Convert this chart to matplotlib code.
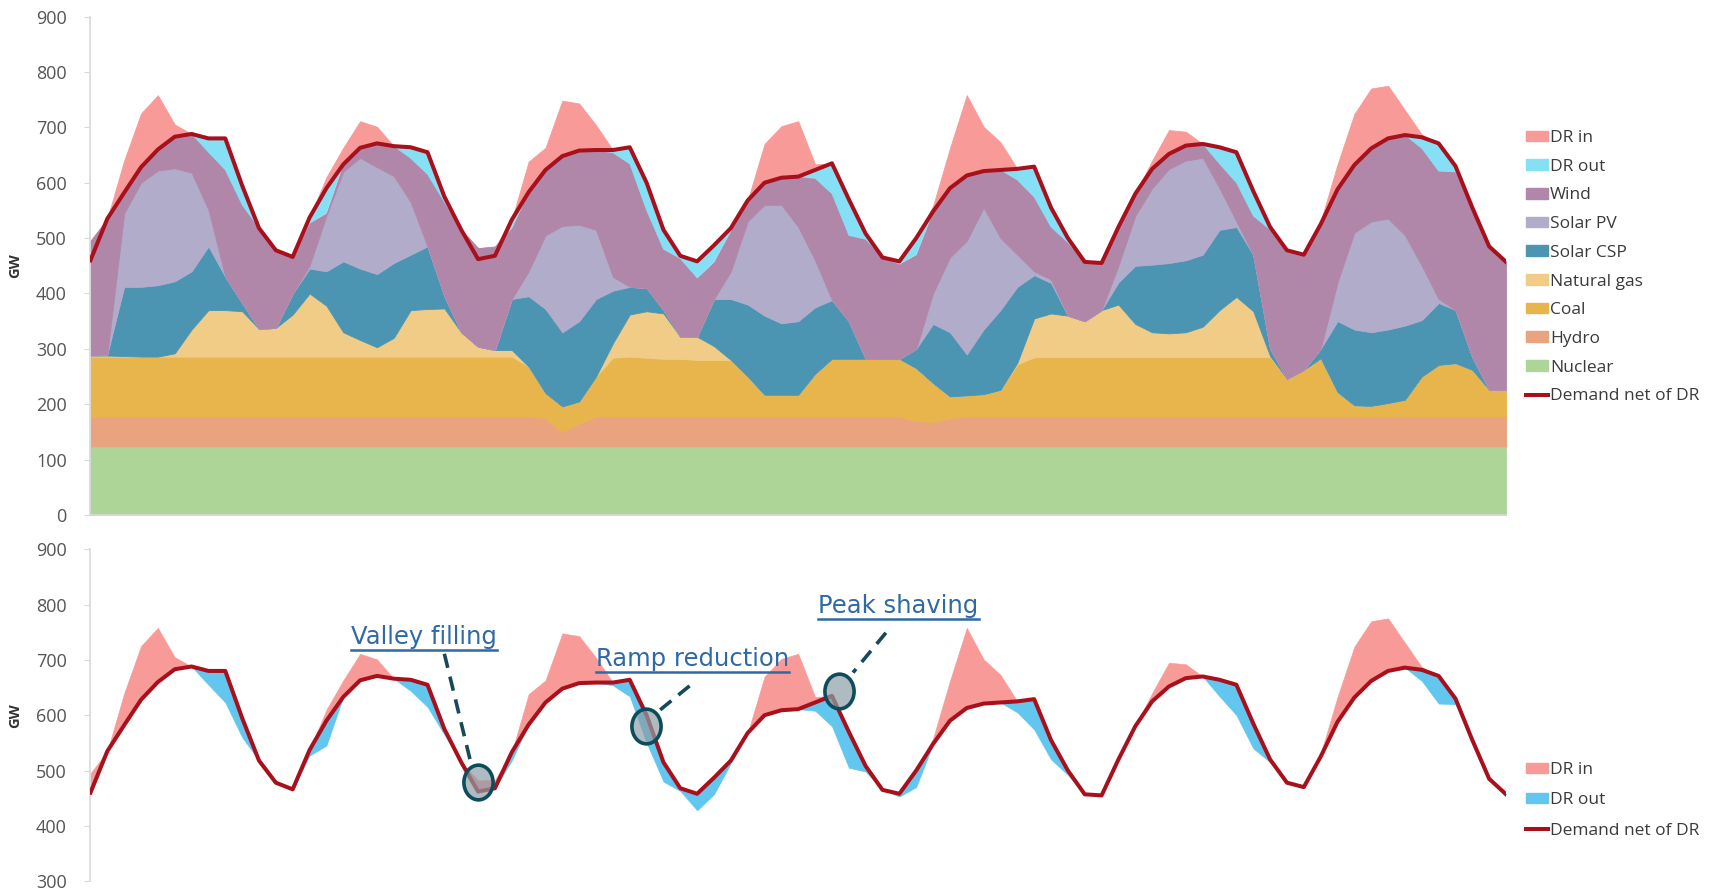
import numpy as np
import matplotlib
matplotlib.use("Agg")
import matplotlib.pyplot as plt
from matplotlib.patches import Patch
from matplotlib.lines import Line2D
from matplotlib.path import Path
from matplotlib.transforms import Affine2D

# ---------------- data (2-hourly, hours 0..168) ----------------
hours = list(range(0, 169, 2))

demand = [460, 535, 582, 628, 660, 683, 688, 680, 680, 595, 518, 478, 466,
          537, 590, 633, 663, 671, 666, 664, 655, 575, 515, 462, 468,
          533, 583, 623, 648, 658, 659, 659, 664, 600, 515, 468, 458,
          487, 518, 568, 600, 609, 611, 623, 635, 570, 508, 465, 458,
          500, 548, 590, 613, 621, 623, 625, 629, 555, 500, 457, 455,
          520, 580, 625, 652, 667, 670, 664, 655, 585, 520, 478, 470,
          525, 588, 632, 662, 680, 686, 682, 671, 630, 555, 485, 457]

dr_in = [35, 0, 58, 97, 98, 22, 0, 0, 0, 0, 0, 0, 0,
         0, 20, 30, 48, 30, 0, 0, 0, 0, 0, 20, 15,
         0, 55, 40, 100, 85, 45, 0, 0, 0, 0, 0, 0,
         0, 0, 0, 70, 93, 100, 10, 0, 0, 0, 0, 0,
         0, 10, 72, 145, 80, 50, 0, 0, 0, 0, 0, 0,
         0, 0, 15, 43, 25, 0, 0, 0, 0, 0, 0, 0,
         5, 45, 92, 108, 95, 45, 5, 0, 0, 0, 0, 0]

dr_out = [0, 0, 0, 0, 0, 0, 0, 25, 57, 35, 0, 0, 0,
          10, 45, 0, 0, 0, 0, 20, 40, 10, 0, 0, 0,
          15, 0, 0, 0, 0, 0, 5, 30, 50, 35, 5, 30,
          30, 5, 0, 0, 0, 0, 15, 55, 65, 10, 0, 5,
          30, 0, 0, 0, 0, 0, 20, 55, 35, 8, 0, 0,
          0, 0, 0, 0, 0, 0, 30, 55, 45, 5, 0, 0,
          0, 0, 0, 0, 0, 0, 20, 50, 10, 0, 0, 0]

# upper edges of the stacked generation layers (GW)
nuclear_top = [124] * 85

hydro_top = [178] * 13 + [178] * 12 + \
            [178, 178, 175, 150, 165, 178, 178, 178, 178, 178, 178, 178] + \
            [178] * 12 + \
            [170, 168, 175, 178, 178, 178, 178, 178, 178, 178, 178, 178] + \
            [178] * 12 + [178] * 12

coal_top = [286] * 13 + [286] * 12 + \
           [286, 268, 220, 196, 205, 250, 284, 286, 284, 282, 282, 280] + \
           [280, 280, 250, 217, 217, 217, 255, 282, 282, 282, 282, 282] + \
           [265, 238, 214, 216, 218, 226, 272, 285, 285, 285, 285, 285] + \
           [285, 285, 285, 285, 285, 285, 285, 285, 285, 285, 246, 262] + \
           [283, 222, 198, 197, 202, 208, 250, 271, 274, 262, 226, 226]

gas_top = [288, 288, 287, 286, 286, 292, 335, 370, 370, 368, 336, 338, 362,
           400, 378, 330, 316, 303, 320, 370, 372, 373, 330, 304, 298,
           298, 268, 220, 196, 205, 250, 310, 362, 368, 364, 322, 322,
           305, 280, 250, 217, 217, 217, 255, 282, 282, 282, 282, 282,
           265, 238, 214, 216, 218, 226, 275, 355, 364, 360, 350, 370,
           380, 345, 330, 328, 330, 340, 370, 394, 368, 287, 246, 262,
           283, 222, 198, 197, 202, 208, 250, 271, 274, 262, 226, 226]

csp_top = [288, 290, 412, 412, 415, 422, 440, 485, 430, 383, 336, 338, 400,
           445, 440, 458, 445, 435, 455, 470, 485, 395, 330, 304, 298,
           390, 395, 372, 330, 350, 390, 405, 412, 410, 370, 322, 322,
           390, 390, 380, 360, 346, 350, 375, 388, 350, 282, 282, 282,
           300, 345, 330, 290, 335, 370, 412, 433, 419, 360, 350, 370,
           420, 450, 452, 455, 460, 470, 515, 520, 470, 300, 246, 262,
           300, 350, 335, 330, 335, 342, 352, 383, 370, 285, 226, 226]

pv_top = [288, 290, 545, 600, 622, 626, 618, 551, 430, 383, 336, 338, 400,
          450, 540, 620, 645, 628, 612, 565, 485, 395, 330, 304, 298,
          390, 440, 505, 522, 524, 515, 430, 412, 410, 370, 322, 322,
          390, 440, 530, 560, 560, 520, 460, 388, 350, 282, 282, 282,
          300, 400, 465, 495, 555, 500, 470, 440, 425, 360, 350, 370,
          450, 540, 590, 625, 640, 645, 590, 530, 470, 300, 246, 262,
          300, 420, 510, 530, 535, 505, 450, 390, 370, 285, 226, 226]

wind_top = [495, 535, 582, 628, 660, 683, 688, 655, 623, 560, 518, 478, 466,
            527, 545, 633, 663, 671, 666, 644, 615, 565, 515, 482, 485,
            518, 583, 623, 648, 658, 659, 654, 634, 550, 480, 463, 428,
            457, 513, 568, 600, 609, 611, 608, 580, 505, 498, 465, 453,
            470, 548, 590, 613, 621, 623, 605, 574, 520, 492, 457, 455,
            520, 580, 625, 652, 667, 670, 634, 600, 540, 515, 478, 470,
            525, 588, 632, 662, 680, 686, 662, 621, 620, 555, 485, 457]

layer_names = ["Nuclear", "Hydro", "Coal", "Natural gas", "Solar CSP", "Solar PV", "Wind"]
layer_tops = [nuclear_top, hydro_top, coal_top, gas_top, csp_top, pv_top, wind_top]
layer_colors = ["#ADD598", "#E9A37E", "#E7B54B", "#F0CC86", "#4B95B3", "#B2ACCB", "#B187A9"]

C_DRIN = "#F89A98"
C_DROUT_TOP = "#86E0F5"
C_DROUT_BOT = "#62C6EF"
C_LINE = "#A8101C"

x = np.array(hours, dtype=float)
D = np.array(demand, dtype=float)
din = np.array(dr_in, dtype=float)
dout = np.array(dr_out, dtype=float)

FW, FH = 17.3, 8.9
fig = plt.figure(figsize=(FW, FH), dpi=100)
SW, SH = 1568.0, 807.0
axL, axR = 82 / SW, 1365 / SW
ax1 = fig.add_axes([axL, 1 - 467 / SH, axR - axL, (467 - 15) / SH])
ax2 = fig.add_axes([axL, 1 - 799 / SH, axR - axL, (799 - 498) / SH])

tick_font = "Open Sans"
GRAY = "#D9D9D9"
LW_LINE = 2.9

# ---------------- top panel ----------------
ax1.fill_between(x, D, D + din, color=C_DRIN, lw=0.6, edgecolor=C_DRIN, zorder=1)
prev = np.zeros_like(x)
for name, top, col in zip(layer_names, layer_tops, layer_colors):
    t = np.array(top, dtype=float)
    ax1.fill_between(x, prev, t, color=col, lw=0.6, edgecolor=col, zorder=2)
    prev = t
wt = np.array(wind_top, dtype=float)
ax1.fill_between(x, wt, D, where=D > wt, interpolate=True, color=C_DROUT_TOP,
                 lw=0.4, edgecolor=C_DROUT_TOP, zorder=3)
ax1.plot(x, D, color=C_LINE, lw=LW_LINE, zorder=5, solid_joinstyle="round")

ax1.set_xlim(0, 168)
ax1.set_ylim(0, 900)
ax1.set_yticks(range(0, 901, 100))

# ---------------- bottom panel ----------------
ax2.fill_between(x, D, D + din, color=C_DRIN, lw=0.4, edgecolor=C_DRIN, zorder=1)
ax2.fill_between(x, D - dout, D, color=C_DROUT_BOT, lw=0.4, edgecolor=C_DROUT_BOT, zorder=1)
ax2.plot(x, D, color=C_LINE, lw=LW_LINE, zorder=5, solid_joinstyle="round")
ax2.set_xlim(0, 168)
ax2.set_ylim(300, 900)
ax2.set_yticks(range(300, 901, 100))

for ax in (ax1, ax2):
    for s in ("top", "right"):
        ax.spines[s].set_visible(False)
    ax.spines["left"].set_color(GRAY)
    ax.spines["left"].set_linewidth(1.2)
    ax.set_xticks([])
    ax.tick_params(axis="y", length=4, color=GRAY, labelsize=13, labelcolor="#555555", pad=13)
    for lab in ax.get_yticklabels():
        lab.set_fontfamily(tick_font)
    ax.set_ylabel("GW", fontsize=10.5, fontweight="bold", color="#333333", labelpad=10,
                  fontfamily=tick_font)
ax1.spines["bottom"].set_color(GRAY)
ax1.spines["bottom"].set_linewidth(1.2)
ax2.spines["bottom"].set_visible(False)

# ---------------- legends ----------------
h_top = [Patch(color=C_DRIN), Patch(color=C_DROUT_TOP)] + \
        [Patch(color=c) for c in layer_colors[::-1]] + \
        [Line2D([0], [0], color=C_LINE, lw=LW_LINE)]
l_top = ["DR in", "DR out"] + layer_names[::-1] + ["Demand net of DR"]
leg1 = ax1.legend(h_top, l_top, loc="upper left", bbox_to_anchor=(1383 / SW, 1 - 118 / SH),
                  bbox_transform=fig.transFigure, frameon=False, fontsize=12.5,
                  handlelength=1.25, handleheight=0.55, handletextpad=0.15, labelspacing=0.73,
                  borderaxespad=0, borderpad=0)
for t in leg1.get_texts():
    t.set_color("#3A3A3A")
    t.set_fontfamily(tick_font)

h_bot = [Patch(color=C_DRIN), Patch(color=C_DROUT_BOT), Line2D([0], [0], color=C_LINE, lw=LW_LINE)]
leg2 = ax2.legend(h_bot, ["DR in", "DR out", "Demand net of DR"], loc="upper left",
                  bbox_to_anchor=(1383 / SW, 1 - 691 / SH), bbox_transform=fig.transFigure,
                  frameon=False, fontsize=12.5, handlelength=1.25, handleheight=0.55,
                  handletextpad=0.15, labelspacing=0.82, borderaxespad=0, borderpad=0)
for t in leg2.get_texts():
    t.set_color("#3A3A3A")
    t.set_fontfamily(tick_font)

# ---------------- annotations (bottom panel) ----------------
ANN_C = "#2F69A6"
DASH_C = "#17495A"
ann_font = ["Liberation Sans Narrow", "DejaVu Sans"]

labels_ann = [("Valley filling", 30.9, 741), ("Ramp reduction", 60.0, 701), ("Peak shaving", 86.4, 798)]
texts = []
for s, hx, vy in labels_ann:
    t = ax2.text(hx, vy, s, fontsize=17.5, color=ANN_C, family=ann_font, ha="left", va="center",
                 zorder=8)
    texts.append(t)

dash_lines = [((42.0, 45.3), (711, 504)), ((71.1, 67.4), (653, 607)), ((94.4, 90.5), (749, 677))]
for xs, ys in dash_lines:
    ax2.plot(xs, ys, color=DASH_C, lw=2.6, linestyle=(0, (4, 2.5)), zorder=7)

ellipse = Path.unit_circle().transformed(Affine2D().scale(0.84, 1.0))
circles = [(46.0, 480), (65.9, 580), (88.8, 644)]
for cx, cy in circles:
    ax2.plot([cx], [cy], marker=ellipse, markersize=25, markerfacecolor=(0.55, 0.62, 0.65, 0.7),
             markeredgecolor="#0E4C5C", markeredgewidth=2.6, zorder=9)

# underline the annotation texts
fig.canvas.draw()
r = fig.canvas.get_renderer()
W, H = fig.get_size_inches() * fig.dpi
for t in texts:
    bb = t.get_window_extent(renderer=r)
    yline = bb.y0 - 1
    fig.add_artist(Line2D([bb.x0 / W, bb.x1 / W], [yline / H, yline / H], color=ANN_C, lw=1.8,
                          transform=fig.transFigure))

fig.savefig("out.png", dpi=100)
